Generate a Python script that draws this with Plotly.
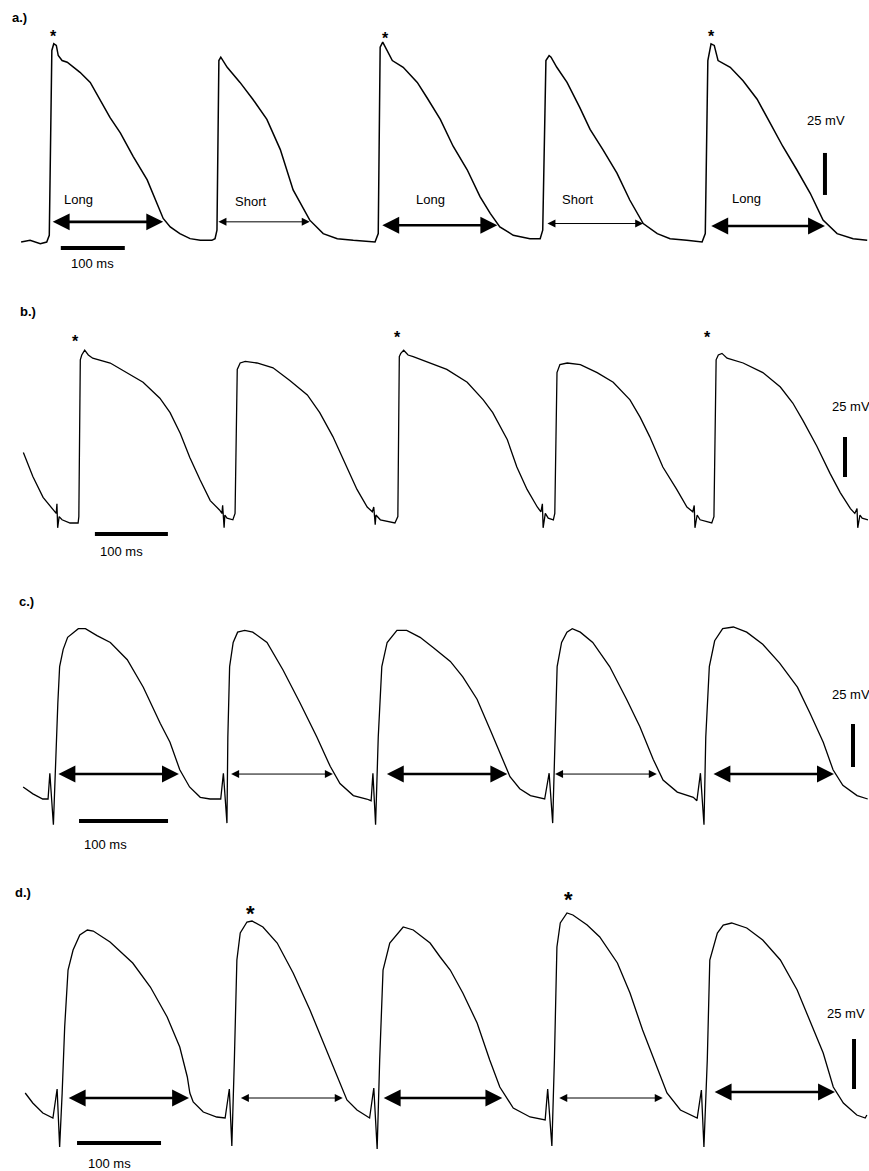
import plotly.graph_objects as go

W, H = 869, 1171

# ---------------- data (time in ms, membrane potential in mV above rest) ----------------
# Panel a
a_time_ms = [33, 47, 63, 73, 77, 80, 81, 84, 88, 91, 97, 105, 125, 141, 156, 172, 188, 208, 230, 245, 255, 266, 281, 297, 313, 331,
             336, 339, 342, 345, 355, 375, 395, 417, 438, 458, 469, 484, 505, 527, 552, 586,
             591, 594, 598, 603, 613, 630, 652, 667, 688, 708, 730, 750, 766, 781, 802, 828, 844,
             848, 853, 858, 861, 870, 886, 906, 922, 942, 964, 984, 1005, 1027, 1047, 1073, 1097,
             1102, 1106, 1111, 1116, 1122, 1141, 1161, 1183, 1203, 1223, 1245, 1266, 1286, 1308, 1333, 1355]
a_mv = [0, 1, -1, 0, 4, 73, 114, 118, 117, 111, 108, 107, 101, 95, 85, 74, 65, 51, 37, 23, 14, 9, 5, 2, 1, 1,
        2, 7, 108, 110, 104, 95, 85, 73, 55, 31, 23, 13, 5, 2, 1, 0,
        5, 116, 119, 115, 108, 104, 95, 86, 73, 57, 43, 27, 17, 9, 4, 2, 2,
        7, 108, 111, 110, 104, 95, 80, 67, 55, 41, 25, 11, 5, 2, 1, 0,
        5, 108, 118, 117, 108, 104, 96, 85, 71, 57, 43, 29, 13, 5, 2, 1]

# Panel b
b_time_ms = [32, 45, 59, 73, 77, 78, 79, 81, 85, 96, 107, 108, 110, 112, 116, 121, 127, 151, 174, 196, 219, 233, 247, 260, 274, 288, 301, 304,
             305, 307, 308, 311, 319, 322, 325, 329, 336, 352, 374, 397, 421, 438, 456, 475, 489, 503, 510,
             512, 514, 515, 521, 541, 545, 547, 549, 553, 559, 566, 589, 612, 640, 662, 675, 695, 708, 722, 736, 741,
             743, 744, 747, 751, 758, 760, 763, 767, 777, 795, 818, 840, 863, 877, 890, 908, 927, 941, 949,
             951, 952, 955, 959, 975, 978, 981, 984, 989, 996, 1018, 1045, 1069, 1086, 1100, 1119, 1137, 1151, 1165, 1171,
             1174, 1175, 1178, 1181, 1189]
b_mv = [44, 29, 16, 8, 6, 12, -3, 4, 2, 0, 0, 4, 102, 105, 108, 105, 103, 100, 94, 88, 78, 69, 56, 41, 27, 14, 8, 6,
        11, -3, 5, 3, 2, 6, 96, 100, 101, 100, 97, 89, 80, 69, 54, 35, 21, 10, 7,
        10, -1, 5, 2, 0, 4, 104, 106, 108, 105, 104, 100, 96, 88, 77, 69, 52, 35, 21, 10, 7,
        12, -3, 6, 3, 2, 6, 94, 99, 100, 99, 94, 88, 77, 66, 54, 35, 21, 10, 7,
        11, -3, 5, 2, 0, 4, 102, 105, 106, 103, 100, 94, 85, 75, 64, 48, 31, 19, 9, 6,
        9, -3, 5, 3, 2]

# Panel c
c_time_ms = [26, 37, 48, 54, 56, 60,
             65, 67, 71, 76, 88, 96, 109, 124, 143, 161, 180, 191, 202, 213, 225, 236, 248, 251, 255,
             256, 258, 262, 267, 275, 284, 300, 318, 337, 356, 371, 382, 397, 412, 417, 419, 422,
             425, 429, 435, 446, 457, 472, 487, 506, 520, 536, 551, 562, 573, 584, 596, 612, 617, 621,
             624, 626, 631, 637, 643, 652, 666, 685, 704, 719, 734, 745, 761, 779, 783, 787, 791,
             793, 797, 803, 812, 824, 839, 857, 876, 896, 910, 925, 936, 947, 963, 975]
c_mv = [7, 3, 0, 0, 15, -15,
        56, 77, 87, 94, 99, 99, 95, 91, 81, 65, 44, 33, 17, 7, 1, 0, 0, 15, -14,
        36, 77, 91, 97, 98, 97, 91, 75, 56, 36, 19, 9, 2, 0, -1, 15, -15,
        36, 77, 91, 98, 98, 94, 88, 80, 71, 58, 40, 27, 13, 6, 2, 0, 15, -14,
        36, 77, 91, 97, 99, 97, 91, 77, 58, 42, 23, 11, 4, 1, -1, 15, -15,
        36, 77, 92, 99, 100, 97, 90, 79, 65, 50, 33, 17, 8, 2, 0]

# Panel d
d_time_ms = [30, 39, 51, 63, 68, 71,
             74, 77, 81, 87, 95, 104, 111, 131, 158, 179, 199, 214, 223, 226, 230, 242, 258, 268, 273, 276,
             279, 282, 286, 294, 300, 313, 330, 349, 369, 385, 401, 413, 425, 440, 445, 449,
             452, 456, 464, 480, 492, 512, 524, 536, 551, 568, 583, 595, 611, 631, 649, 652, 657,
             660, 663, 667, 675, 682, 699, 714, 735, 750, 765, 782, 794, 810, 830, 835, 838,
             842, 845, 854, 861, 871, 889, 908, 929, 949, 964, 980, 992, 1004, 1020, 1030, 1032]
d_mv = [12.5, 7.5, 2.5, 0, 14.5, -14.5,
        12.5, 45.5, 74, 84, 91.5, 94, 93.5, 88, 77.5, 65.5, 50.5, 35.5, 20.5, 12.5, 8, 3, 0.5, 0, 14.5, -14,
        29, 79, 92.5, 98, 98.5, 95.5, 87.5, 72.5, 54, 37.5, 20.5, 9, 4, 0, 15, -15.5,
        29, 74, 87.5, 95.5, 94, 87.5, 80.5, 74, 62.5, 47.5, 29, 15.5, 5, 0.5, -1, 14.5, -14,
        29, 85.5, 97.5, 102.5, 101.5, 96.5, 90.5, 77.5, 62.5, 44, 25.5, 12.5, 4, 0, 14, -14.5,
        29, 79, 92.5, 96.5, 97.5, 95, 89, 79, 64, 49, 32.5, 15.5, 7.5, 1.5, 0, 1.5]

# APD measurement arrows (ms) and the level they are drawn at (mV)
apd_kind = ["Long", "Short", "Long", "Short", "Long"]
a_apd_start = [80, 339, 595, 853, 1109]
a_apd_end = [255, 484, 777, 1005, 1289]
a_apd_mv = [12, 12, 10, 11, 9.5]
c_apd_start = [64, 258, 433, 622, 800]
c_apd_end = [201, 374, 570, 738, 937]
c_apd_mv = [14.5, 14.5, 14.5, 14.5, 14.5]
d_apd_start = [80, 285, 455, 664, 849]
d_apd_end = [225, 408, 598, 789, 994]
d_apd_mv = [10, 10, 10, 10, 13]

# "Long"/"Short" labels in panel a
a_label_ms = [122, 391, 672, 903, 1167]
a_label_mv = [25.5, 24, 25.5, 25.5, 26]

# Asterisks (beats marked)
a_star_ms = [84, 602, 1112]
a_star_mv = [125, 124, 125]
b_star_ms = [104, 544, 969]
b_star_mv = [116, 119, 119]
d_star_ms = [298, 677]
d_star_mv = [105.5, 112.5]

# Scale bars
scale_ms = 100
scale_mv = 25
scale_time_text = "100 ms"
scale_volt_text = "25 mV"

# ---------------- layout of the four panels ----------------
panels = [
    dict(name="a.)", t=a_time_ms, v=a_mv, top=0, bottom=285, ms_px=100 / 64, mv_px=25 / 42, zero=242,
         label_xy=(10, 18), lw=1.5,
         tbar=(95, -3.6), ttext=(145, -12.5), vbar=(1289, 28), vtext=(1291, 72.6, "center"),
         apd=(a_apd_start, a_apd_end, a_apd_mv), stars=(a_star_ms, a_star_mv, 16)),
    dict(name="b.)", t=b_time_ms, v=b_mv, top=285, bottom=565, ms_px=100 / 73, mv_px=25 / 40, zero=523,
         label_xy=(18, 311), lw=1.3,
         tbar=(130, -6.9), ttext=(166, -17.5), vbar=(1157.5, 28.75), vtext=(1137, 72.5, "left"),
         apd=None, stars=(b_star_ms, b_star_mv, 16)),
    dict(name="c.)", t=c_time_ms, v=c_mv, top=565, bottom=855, ms_px=100 / 89, mv_px=25 / 43, zero=799,
         label_xy=(17, 601), lw=1.3,
         tbar=(88.8, -12.8), ttext=(118, -26.2), vbar=(958.4, 18.6), vtext=(932.6, 61, "left"),
         apd=(c_apd_start, c_apd_end, c_apd_mv), stars=None),
    dict(name="d.)", t=d_time_ms, v=d_mv, top=855, bottom=1171, ms_px=100 / 84, mv_px=25 / 50, zero=1118,
         label_xy=(13, 892), lw=1.3,
         tbar=(91.7, -12.5), ttext=(130, -22.5), vbar=(1016.7, 14.5), vtext=(1007, 52.5, "center"),
         apd=(d_apd_start, d_apd_end, d_apd_mv), stars=(d_star_ms, d_star_mv, 22)),
]

FONT = "Liberation Sans, Arial, Helvetica, sans-serif"
fig = go.Figure()
annotations = []
shapes = []
layout_axes = {}

for i, p in enumerate(panels, start=1):
    sfx = "" if i == 1 else str(i)
    xa, ya = "x" + sfx, "y" + sfx
    xr = [0, W * p["ms_px"]]
    yr = [(p["zero"] - p["bottom"]) * p["mv_px"], (p["zero"] - p["top"]) * p["mv_px"]]
    dom = [1 - p["bottom"] / H, 1 - p["top"] / H]
    layout_axes["xaxis" + sfx] = dict(domain=[0, 1], range=xr, anchor=ya, visible=False, fixedrange=True)
    layout_axes["yaxis" + sfx] = dict(domain=dom, range=yr, anchor=xa, visible=False, fixedrange=True)

    fig.add_trace(go.Scatter(x=p["t"], y=p["v"], xaxis=xa, yaxis=ya, mode="lines",
                             line=dict(color="black", width=p["lw"]), showlegend=False,
                             hoverinfo="skip", cliponaxis=True))

    # panel label
    lx, ly = p["label_xy"]
    annotations.append(dict(text="<b>%s</b>" % p["name"], x=lx / W, y=1 - ly / H, xref="paper", yref="paper",
                            xanchor="left", yanchor="middle", showarrow=False,
                            font=dict(family=FONT, size=13, color="black")))

    # time scale bar
    t0, tv = p["tbar"]
    shapes.append(dict(type="line", xref=xa, yref=ya, x0=t0, x1=t0 + scale_ms, y0=tv, y1=tv,
                       line=dict(color="black", width=4)))
    tx, ty = p["ttext"]
    annotations.append(dict(text=scale_time_text, x=tx, y=ty, xref=xa, yref=ya, showarrow=False,
                            xanchor="center", yanchor="middle", font=dict(family=FONT, size=13, color="black")))
    # voltage scale bar
    vx, v0 = p["vbar"]
    shapes.append(dict(type="line", xref=xa, yref=ya, x0=vx, x1=vx, y0=v0, y1=v0 + scale_mv,
                       line=dict(color="black", width=4)))
    vtx, vty, anc = p["vtext"]
    annotations.append(dict(text=scale_volt_text, x=vtx, y=vty, xref=xa, yref=ya, showarrow=False,
                            xanchor=anc, yanchor="middle", font=dict(family=FONT, size=13, color="black")))

    # APD arrows
    if p["apd"] is not None:
        starts, ends, levels = p["apd"]
        for s, e, lv, kind in zip(starts, ends, levels, apd_kind):
            thick = kind == "Long"
            annotations.append(dict(text="", x=e, y=lv, ax=s, ay=lv, xref=xa, yref=ya, axref=xa, ayref=ya,
                                    showarrow=True, arrowside="end+start",
                                    arrowhead=2, startarrowhead=2,
                                    arrowsize=1.3 if thick else 1.6, startarrowsize=1.3 if thick else 1.6,
                                    arrowwidth=2.6 if thick else 1.0, arrowcolor="black",
                                    standoff=0, startstandoff=0))

    # asterisks
    if p["stars"] is not None:
        sx, sy, fs = p["stars"]
        for x_, y_ in zip(sx, sy):
            annotations.append(dict(text="<b>*</b>", x=x_, y=y_, xref=xa, yref=ya, showarrow=False,
                                    xanchor="center", yanchor="middle", yshift=-0.28 * fs,
                                    font=dict(family=FONT, size=fs, color="black")))

# Long / Short labels in panel a
for x_, y_, kind in zip(a_label_ms, a_label_mv, apd_kind):
    annotations.append(dict(text=kind, x=x_, y=y_, xref="x", yref="y", showarrow=False,
                            xanchor="center", yanchor="middle", font=dict(family=FONT, size=13, color="black")))

fig.update_layout(width=W, height=H, margin=dict(l=0, r=0, t=0, b=0), autosize=False,
                  paper_bgcolor="white", plot_bgcolor="white", showlegend=False,
                  annotations=annotations, shapes=shapes, **layout_axes)

fig.write_html("out.html", config=dict(displayModeBar=False, staticPlot=True),
               post_script="document.documentElement.style.margin='0';document.body.style.margin='0';"
                           "document.body.style.padding='0';document.body.style.overflow='hidden';")
